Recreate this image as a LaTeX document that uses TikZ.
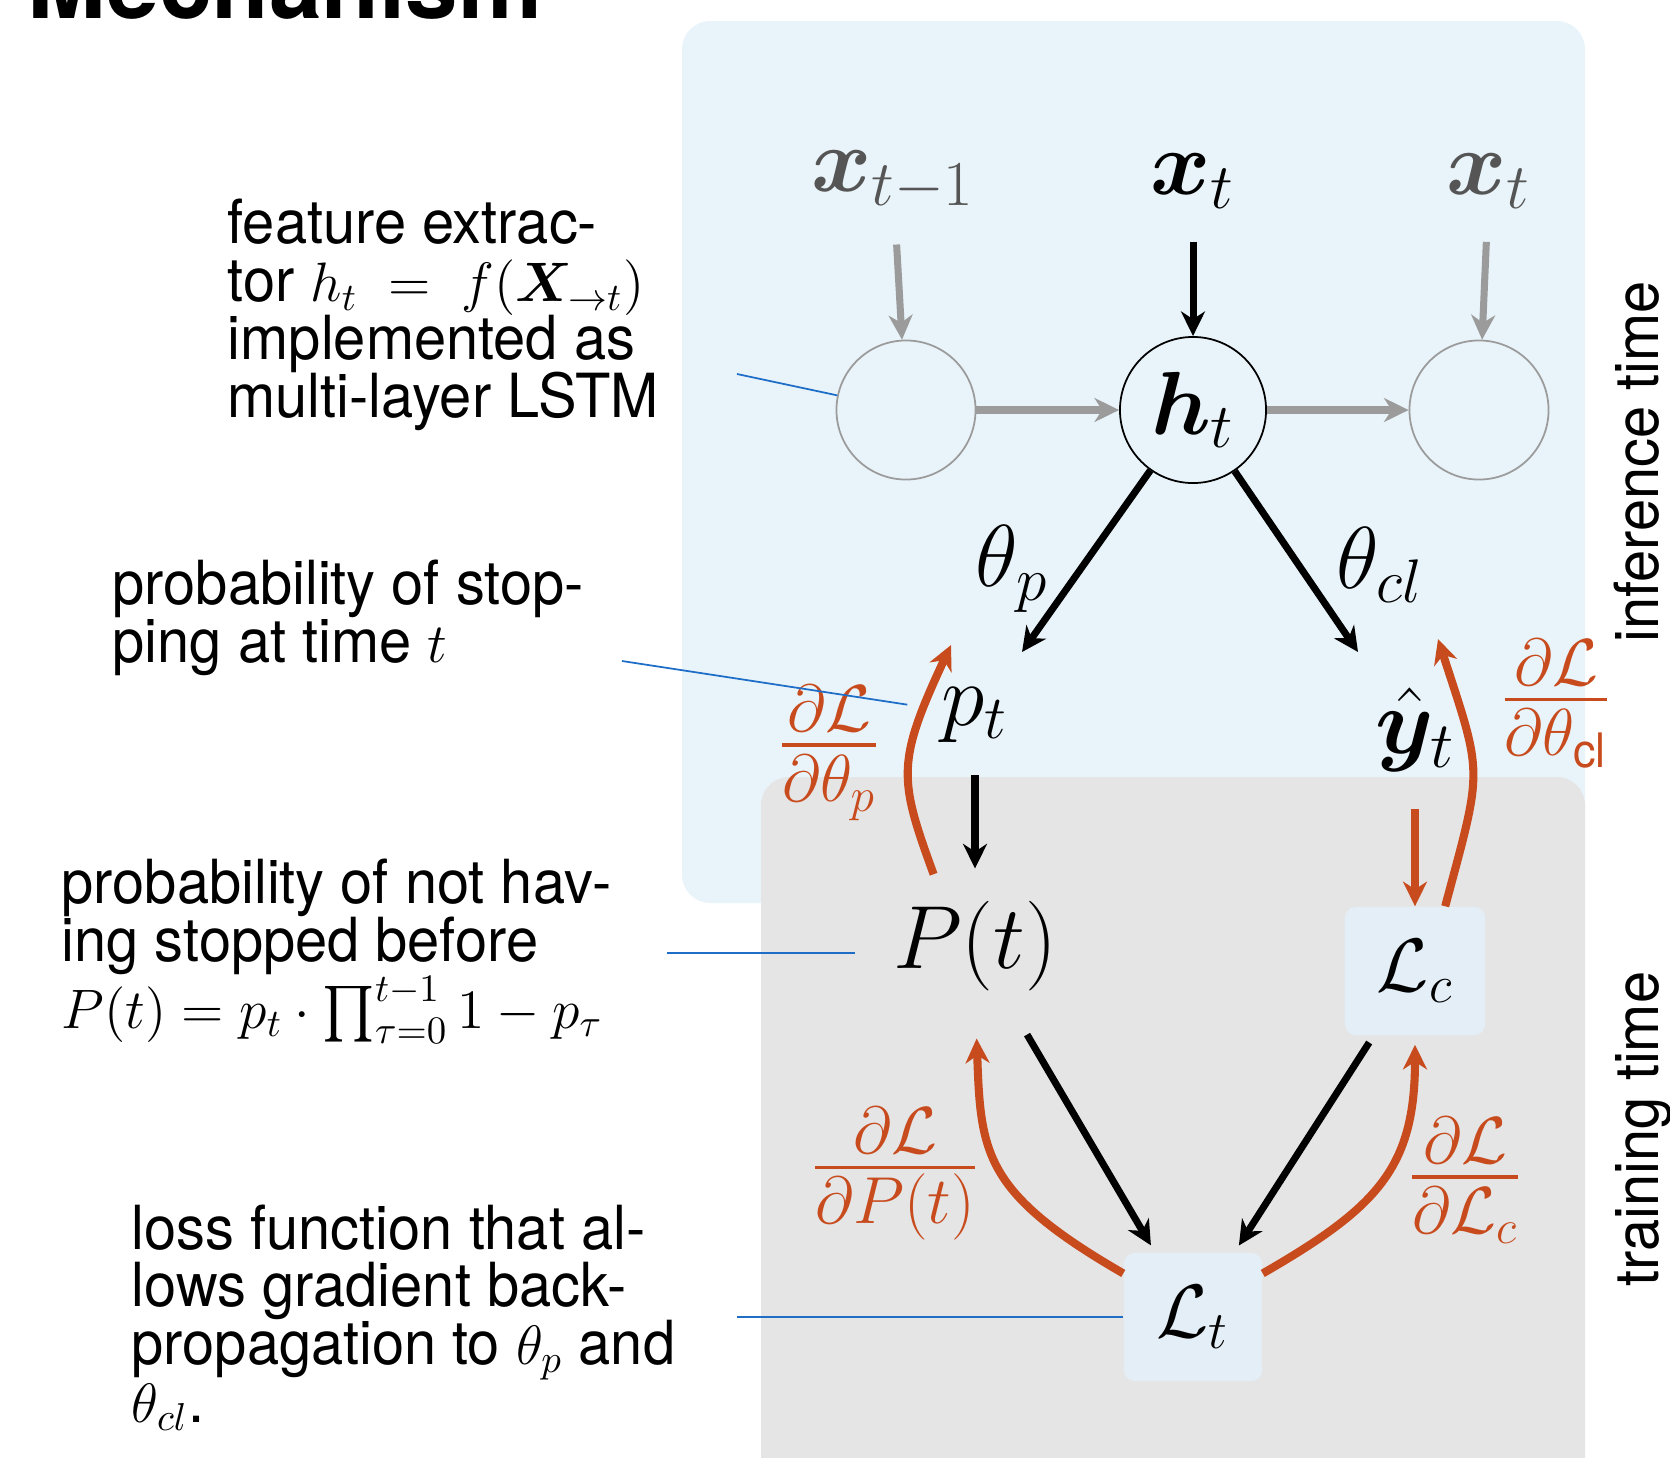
\documentclass[tikz,border=0pt]{standalone}
\usepackage{fix-cm}
\usepackage{amsmath}
\usepackage{amssymb}
\usepackage{bm}
\usepackage[no-math]{fontspec}
\setmainfont[FakeStretch=0.95]{TeX Gyre Heros}
\usetikzlibrary{calc, positioning}
\usetikzlibrary{arrows.meta}
\setlength{\lineskiplimit}{-20pt}
\newcommand{\notemath}[1]{{\fontsize{15.8pt}{16.4pt}\selectfont$#1$}}

\begin{document}
\begin{tikzpicture}[x=0.01cm,y=0.01cm,
  note/.style={anchor=base west,align=left,inner sep=0pt,font=\fontsize{17.3pt}{16.4pt}\selectfont},
  bigmath/.style={inner sep=0pt,font=\fontsize{25pt}{28pt}\selectfont},
  gradlabel/.style={inner sep=0pt,text=gradred,font=\fontsize{27pt}{30pt}\selectfont},
  cell/.style={circle,draw,line width=0.5pt,minimum size=1.39cm,inner sep=0pt},
  lossbox/.style={fill=lossfill,rounded corners=3pt,minimum width=1.4cm,minimum height=1.28cm,inner sep=0pt,font=\fontsize{21.5pt}{24pt}\selectfont},
  flow/.style={line width=2pt,-{Stealth[length=7pt,width=6.8pt,inset=2.2pt]}},
  grad/.style={flow,draw=gradred,line width=2.3pt},
  pointer/.style={draw=noteblue,line width=0.5pt}]
\definecolor{inferblue}{RGB}{233,244,250}
\definecolor{traingray}{RGB}{229,229,229}
\definecolor{lossfill}{RGB}{228,238,246}
\definecolor{gradred}{RGB}{200,75,30}
\definecolor{cellgray}{RGB}{155,155,155}
\definecolor{inputgray}{RGB}{85,85,85}
\definecolor{noteblue}{RGB}{30,110,200}
\useasboundingbox (0,0) rectangle (1670,-1457);

\fill[inferblue,rounded corners=8pt] (682,-21) rectangle (1585,-903);
\fill[traingray,rounded corners=8pt] (761,-777) rectangle (1585,-1500);

\node[anchor=base west,inner sep=0pt,font=\bfseries\fontsize{28.3pt}{30pt}\selectfont] (Title) at (27,-18) {Mechanism};

\node[bigmath,font=\fontsize{26pt}{28pt}\selectfont,text=inputgray] (XPrev) at (893,-181) {$\bm{x}_{t-1}$};
\node[bigmath,font=\fontsize{26pt}{28pt}\selectfont] (XCur) at (1193,-181) {$\bm{x}_t$};
\node[bigmath,font=\fontsize{26pt}{28pt}\selectfont,text=inputgray] (XNext) at (1489,-181) {$\bm{x}_t$};

\node[cell,draw=cellgray] (CPrev) at (906,-410) {};
\node[cell,minimum size=1.46cm,font=\fontsize{25.5pt}{28pt}\selectfont] (HCell) at (1193,-410) {$\bm{h}_t$};
\node[cell,draw=cellgray] (CNext) at (1479,-410) {};

\draw[flow,cellgray,shorten <=0.33cm] (XPrev) -- (CPrev);
\draw[flow,shorten <=0.33cm] (XCur) -- (HCell);
\draw[flow,cellgray,shorten <=0.33cm] (XNext) -- (CNext);
\draw[flow,cellgray,line width=2.3pt] (CPrev) -- (HCell);
\draw[flow,cellgray,line width=2.3pt] (HCell) -- (CNext);

\coordinate (ThetaPTip) at (1022,-652);
\coordinate (ThetaClTip) at (1358,-652);
\draw[flow] (HCell) -- (ThetaPTip);
\draw[flow] (HCell) -- (ThetaClTip);
\node[bigmath] (ThetaP) at (1012,-569) {$\theta_p$};
\node[bigmath] (ThetaCl) at (1380,-565) {$\theta_{cl}$};

\node[bigmath] (PT) at (975,-715) {$p_t$};
\node[bigmath,font=\fontsize{26.5pt}{28pt}\selectfont] (YHat) at (1415,-730) {$\hat{\bm{y}}_t$};
\node[bigmath,font=\fontsize{25.5pt}{28pt}\selectfont] (PBig) at (975,-946) {$P(t)$};
\node[lossbox] (LC) at (1415,-971) {$\mathcal{L}_c$};
\node[lossbox,minimum width=1.38cm] (LT) at (1193,-1317) {$\mathcal{L}_t$};

\draw[flow,shorten <=0.32cm,shorten >=0.32cm] (PT) -- (PBig);
\draw[grad,line width=2.1pt,shorten <=0.36cm] (YHat) -- (LC);
\draw[flow,shorten <=0.5cm,shorten >=0.08cm] (PBig) -- (LT);
\draw[flow,shorten <=0.08cm,shorten >=0.08cm] (LC) -- (LT);

\coordinate (GradPTip) at (951,-645);
\coordinate (GradYTip) at (1438,-639);
\draw[grad,shorten >=0.47cm] (LT.148) to[out=150,in=-88,looseness=1.3] (PBig.south);
\draw[grad,shorten >=0.09cm] (LT.32) to[out=30,in=-90,looseness=1.2] (LC.south);
\draw[grad,shorten <=0.28cm] (PBig.125) to[out=110,in=-115,looseness=1.3] (GradPTip);
\draw[grad] (LC.65) to[out=75,in=-72,looseness=1.4] (GradYTip);

\node[gradlabel] (GradThetaP) at (829,-753) {$\frac{\partial\mathcal{L}}{\partial\theta_p}$};
\node[gradlabel] (GradThetaCl) at (1556,-704) {$\frac{\partial\mathcal{L}}{\partial\theta_{\text{cl}}}$};
\node[gradlabel] (GradPBig) at (895,-1174) {$\frac{\partial\mathcal{L}}{\partial P(t)}$};
\node[gradlabel] (GradLC) at (1465,-1180) {$\frac{\partial\mathcal{L}}{\partial\mathcal{L}_c}$};

\node[note] (FeatureText) at (227,-417) {feature extrac-\\tor \notemath{h_t \;=\; f(\bm{X}_{\rightarrow t})}\\implemented as\\multi-layer LSTM};
\node[note] (StopText) at (112,-662) {probability of stop-\\ping at time \notemath{t}};
\node[note] (SurvivalText) at (61,-1028) {probability of not hav-\\ing stopped before\\[2.6pt]\notemath{P(t) = p_t \cdot \prod_{\tau=0}^{t-1} 1 - p_\tau}};
\node[note] (LossText) at (131,-1422) {loss function that al-\\lows gradient back-\\propagation to \notemath{\theta_p} and\\\notemath{\theta_{cl}}.};

\coordinate (FeatureNote) at (737,-374);
\coordinate (StopNote) at (622,-661);
\coordinate (SurvivalNote) at (667,-953);
\coordinate (LossNote) at (737,-1317);
\draw[pointer] (FeatureNote) -- (CPrev);
\draw[pointer,shorten >=0.34cm] (StopNote) -- (PT);
\draw[pointer,shorten >=0.37cm] (SurvivalNote) -- (SurvivalNote -| PBig.west);
\draw[pointer] (LossNote) -- (LT);

\node[note,anchor=base,rotate=90] (InferText) at (1658,-462) {inference time};
\node[note,anchor=base,rotate=90] (TrainText) at (1658,-1129) {training time};
\end{tikzpicture}
\end{document}
